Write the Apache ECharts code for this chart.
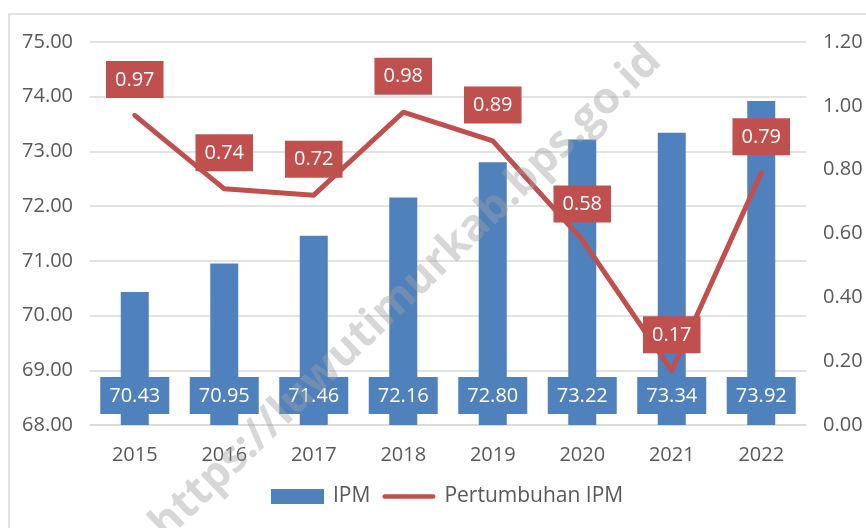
<!DOCTYPE html>
<html>
<head>
<meta charset="utf-8">
<script src="https://cdn.jsdelivr.net/npm/echarts@6/dist/echarts.min.js"></script>
<style>
  html, body { margin: 0; padding: 0; background: #fff; }
  #chart { width: 866px; height: 528px; }
</style>
</head>
<body>
<div id="chart"></div>
<script>
// data
const years = ["2015", "2016", "2017", "2018", "2019", "2020", "2021", "2022"];
const ipm = [70.43, 70.95, 71.46, 72.16, 72.80, 73.22, 73.34, 73.92];
const growth = [0.97, 0.74, 0.72, 0.98, 0.89, 0.58, 0.17, 0.79];

const blue = "#4f81bd";
const red = "#c0504d";
const font = "Open Sans";

const chart = echarts.init(document.getElementById("chart"));
chart.setOption({
  animation: false,
  textStyle: { fontFamily: font },
  grid: { left: 90, right: 60, top: 42, bottom: 103 },
  legend: {
    bottom: 16,
    left: 266,
    itemWidth: 53,
    itemHeight: 15,
    itemGap: 12,
    textStyle: { fontSize: 21, color: "#595959", fontFamily: font, padding: [0, 0, 0, 4] },
    data: [
      { name: "IPM", icon: "rect" },
      {
        name: "Pertumbuhan IPM",
        icon: "path://M2.5,0 H57.5 A2.5,2.5 0 0 1 57.5,5 H2.5 A2.5,2.5 0 0 1 2.5,0 Z"
      }
    ]
  },
  graphic: [
    {
      type: "rect",
      shape: { x: 9, y: 14, width: 900, height: 600 },
      style: { fill: "none", stroke: "#d9d9d9", lineWidth: 1.5 },
      z: -1
    },
    {
      type: "text",
      x: 406,
      y: 293,
      rotation: Math.PI / 4.1,
      z: 100,
      style: {
        text: "https://luwutimurkab.bps.go.id",
        font: "bold 44px 'Open Sans'",
        fill: "rgba(160,160,160,0.42)",
        align: "center",
        verticalAlign: "middle"
      }
    }
  ],
  xAxis: {
    type: "category",
    data: years,
    axisLine: { lineStyle: { color: "#d9d9d9", width: 1.5 } },
    axisTick: { show: false },
    axisLabel: { fontSize: 20, color: "#595959", margin: 20 }
  },
  yAxis: [
    {
      type: "value",
      min: 68,
      max: 75,
      interval: 1,
      axisLine: { show: false },
      axisTick: { show: false },
      splitLine: { lineStyle: { color: "#d9d9d9", width: 1.5 } },
      axisLabel: {
        fontSize: 20,
        color: "#595959",
        margin: 17,
        formatter: v => v.toFixed(2)
      }
    },
    {
      type: "value",
      min: 0,
      max: 1.2,
      interval: 0.2,
      axisLine: { show: false },
      axisTick: { show: false },
      splitLine: { show: false },
      axisLabel: {
        fontSize: 20,
        color: "#595959",
        margin: 17,
        formatter: v => v.toFixed(2)
      }
    }
  ],
  series: [
    {
      name: "IPM",
      type: "bar",
      data: ipm,
      barWidth: 28,
      itemStyle: { color: blue },
      label: {
        show: true,
        position: "insideBottom",
        distance: 11,
        color: "#fff",
        fontSize: 20,
        backgroundColor: blue,
        padding: [9, 9, 8, 9],
        formatter: p => p.value.toFixed(2)
      }
    },
    {
      name: "Pertumbuhan IPM",
      type: "line",
      yAxisIndex: 1,
      data: growth,
      symbol: "circle",
      symbolSize: 1,
      showSymbol: true,
      lineStyle: { color: red, width: 5, join: "round", cap: "round" },
      itemStyle: { color: red },
      label: {
        show: true,
        position: "top",
        distance: 17,
        color: "#fff",
        fontSize: 20,
        backgroundColor: red,
        padding: [9, 9, 8, 9],
        formatter: p => p.value.toFixed(2)
      },
      z: 5
    }
  ]
});
</script>
</body>
</html>
